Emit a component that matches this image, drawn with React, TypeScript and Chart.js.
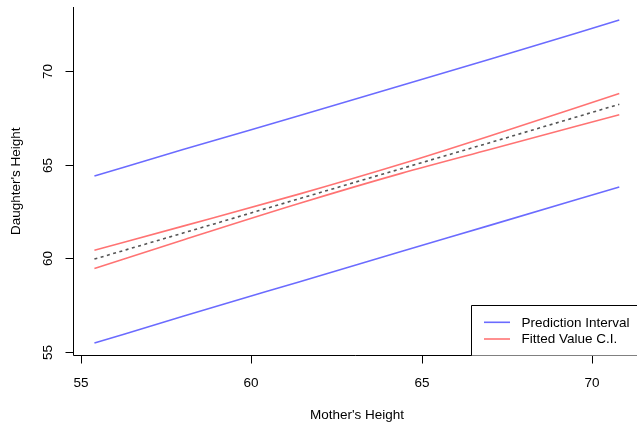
import React, { useEffect, useRef } from "react";
import { Chart, registerables } from "chart.js";

Chart.register(...registerables);

const mothersHeight = [55.4, 58, 61.4, 64.4, 67, 70.8];
const fittedValue = [59.95, 61.34, 63.17, 64.78, 66.17, 68.22];
const ciUpper = [60.42, 61.71, 63.42, 65.03, 66.53, 68.8];
const ciLower = [59.44, 60.97, 62.92, 64.53, 65.81, 67.66];
const piUpper = [64.39, 65.8, 67.61, 69.22, 70.63, 72.72];
const piLower = [55.46, 56.89, 58.73, 60.35, 61.75, 63.8];

const xTicks = [55, 60, 65, 70];
const yTicks = [55, 60, 65, 70];
const legendLabels = ["Prediction Interval", "Fitted Value C.I."];
const xTitle = "Mother's Height";
const yTitle = "Daughter's Height";

const BLUE = "rgba(0,0,255,0.58)";
const RED = "rgba(255,0,0,0.55)";
const GRAY = "#555555";
const FONT = '13.5px "Liberation Sans", Arial, sans-serif';

const toPts = (ys: number[]) => mothersHeight.map((x, i) => ({ x, y: ys[i] }));

const rPlot = {
  id: "rPlot",
  afterDraw(chart: any) {
    const ctx = chart.ctx;
    const xs = chart.scales.x;
    const ys = chart.scales.y;
    const a = chart.chartArea;
    ctx.save();
    ctx.strokeStyle = "#000";
    ctx.lineWidth = 1;
    ctx.fillStyle = "#000";
    ctx.font = FONT;
    // L-shaped box
    ctx.beginPath();
    ctx.moveTo(a.left, a.top);
    ctx.lineTo(a.left, a.bottom);
    ctx.lineTo(a.right + 5, a.bottom);
    ctx.stroke();
    // x ticks
    ctx.textAlign = "center";
    ctx.textBaseline = "middle";
    for (const t of xTicks) {
      const px = Math.round(xs.getPixelForValue(t)) + 0.5;
      ctx.beginPath();
      ctx.moveTo(px, a.bottom);
      ctx.lineTo(px, a.bottom + 8);
      ctx.stroke();
      ctx.fillText(String(t), px - 0.5, 383);
    }
    // y ticks
    for (const t of yTicks) {
      const py = Math.round(ys.getPixelForValue(t)) + 0.5;
      ctx.beginPath();
      ctx.moveTo(a.left, py);
      ctx.lineTo(a.left - 8, py);
      ctx.stroke();
      ctx.save();
      ctx.translate(48, py);
      ctx.rotate(-Math.PI / 2);
      ctx.fillText(String(t), 0, 0);
      ctx.restore();
    }
    // titles
    ctx.fillText(xTitle, 357, 415);
    ctx.save();
    ctx.translate(16, (a.top + a.bottom) / 2);
    ctx.rotate(-Math.PI / 2);
    ctx.fillText(yTitle, 0, 0);
    ctx.restore();
    // legend
    const lx = 471.5;
    const ly = 305.5;
    ctx.fillStyle = "#fff";
    ctx.fillRect(lx, ly, 200, a.bottom - ly);
    ctx.beginPath();
    ctx.moveTo(lx, a.bottom);
    ctx.lineTo(lx, ly);
    ctx.lineTo(lx + 200, ly);
    ctx.stroke();
    const colors = [BLUE, RED];
    const rows = [322.3, 339];
    ctx.textAlign = "left";
    for (let i = 0; i < legendLabels.length; i++) {
      ctx.strokeStyle = colors[i];
      ctx.lineWidth = 1.6;
      ctx.beginPath();
      ctx.moveTo(484, rows[i]);
      ctx.lineTo(510, rows[i]);
      ctx.stroke();
      ctx.fillStyle = "#000";
      ctx.fillText(legendLabels[i], 521.5, rows[i] + 0.5);
    }
    ctx.restore();
  },
};

export default function App() {
  const ref = useRef<HTMLCanvasElement | null>(null);
  useEffect(() => {
    if (!ref.current) return;
    const lineDs = (label: string, ys: number[], color: string, dash: number[] = []) => ({
      label,
      data: toPts(ys),
      borderColor: color,
      backgroundColor: color,
      borderWidth: 1.6,
      borderDash: dash,
      pointRadius: 0,
      showLine: true,
      fill: false,
      tension: 0.3,
      cubicInterpolationMode: "monotone" as const,
    });
    const chart = new Chart(ref.current, {
      type: "scatter",
      data: {
        datasets: [
          lineDs("Prediction upper", piUpper, BLUE),
          lineDs("Prediction lower", piLower, BLUE),
          lineDs("CI upper", ciUpper, RED),
          lineDs("CI lower", ciLower, RED),
          lineDs("Fitted", fittedValue, GRAY, [3, 3.5]),
        ],
      },
      options: {
        animation: false,
        responsive: false,
        devicePixelRatio: 1,
        layout: { padding: { left: 73.5, top: 7, right: 0, bottom: 68.5 } },
        plugins: { legend: { display: false }, tooltip: { enabled: false } },
        scales: {
          x: { type: "linear", display: false, min: 54.786, max: 71.32 },
          y: { type: "linear", display: false, min: 54.797, max: 73.42 },
        },
      },
      plugins: [rPlot],
    });
    return () => chart.destroy();
  }, []);
  return (
    <div style={{ position: "fixed", left: 0, top: 0, width: 637, height: 424, background: "#fff" }}>
      <canvas ref={ref} width={637} height={424} />
    </div>
  );
}
